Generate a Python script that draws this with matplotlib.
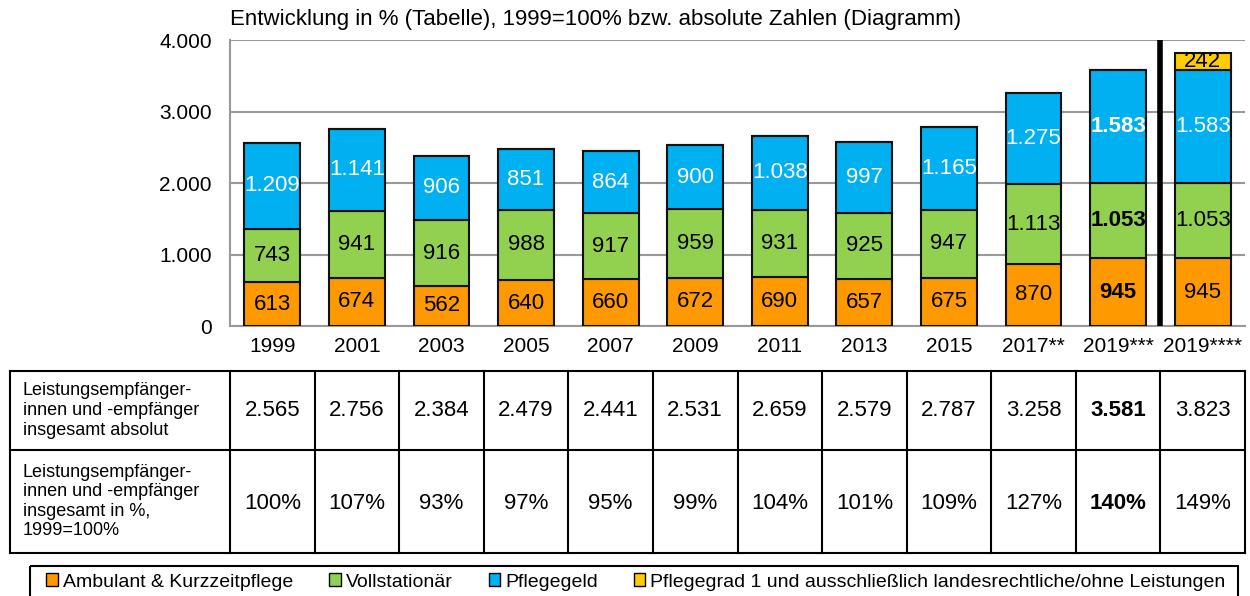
import numpy as np
import matplotlib
matplotlib.use("Agg")
import matplotlib.pyplot as plt
from matplotlib.patches import Patch, Rectangle

plt.rcParams['font.family'] = ['Liberation Sans', 'DejaVu Sans']

# data
years = ['1999', '2001', '2003', '2005', '2007', '2009', '2011', '2013', '2015',
         '2017**', '2019***', '2019****']
ambulant = [613, 674, 562, 640, 660, 672, 690, 657, 675, 870, 945, 945]
vollstationaer = [743, 941, 916, 988, 917, 959, 931, 925, 947, 1113, 1053, 1053]
pflegegeld = [1209, 1141, 906, 851, 864, 900, 1038, 997, 1165, 1275, 1583, 1583]
pflegegrad1 = [0, 0, 0, 0, 0, 0, 0, 0, 0, 0, 0, 242]
total_abs = ['2.565', '2.756', '2.384', '2.479', '2.441', '2.531', '2.659', '2.579',
             '2.787', '3.258', '3.581', '3.823']
total_pct = ['100%', '107%', '93%', '97%', '95%', '99%', '104%', '101%', '109%',
             '127%', '140%', '149%']
row_labels = ['Leistungsempfänger-\ninnen und -empfänger\ninsgesamt absolut',
              'Leistungsempfänger-\ninnen und -empfänger\ninsgesamt in %,\n1999=100%']
series_names = ['Ambulant & Kurzzeitpflege', 'Vollstationär', 'Pflegegeld',
                'Pflegegrad 1 und ausschließlich landesrechtliche/ohne Leistungen']
colors = ['#FF9900', '#92D050', '#00B0F0', '#FFCC00']
bold_col = 10  # 2019***

W, H = 1250, 596
fig = plt.figure(figsize=(W / 100, H / 100), dpi=100)

# chart area in pixels
ax_l, ax_r, ax_t, ax_b = 230, 1245, 40, 326
ax = fig.add_axes([ax_l / W, 1 - ax_b / H, (ax_r - ax_l) / W, (ax_b - ax_t) / H])
n = len(years)
x = np.arange(n)
ax.set_xlim(-0.5, n - 0.5)
ax.set_ylim(0, 4000)

def fmt(v):
    return f'{v:,}'.replace(',', '.')

bottom = np.zeros(n)
for vals, col, txtcol in zip([ambulant, vollstationaer, pflegegeld, pflegegrad1],
                             colors, ['black', 'black', 'white', 'black']):
    vals = np.array(vals)
    ax.bar(x, vals, 0.66, bottom=bottom, color=col, edgecolor='#111111',
           linewidth=1.5, zorder=3)
    for i in range(n):
        if vals[i] > 0:
            ax.text(x[i], bottom[i] + vals[i] / 2, fmt(vals[i]), ha='center', va='center',
                    fontsize=16, color=txtcol, zorder=4,
                    fontweight='bold' if i == bold_col else 'normal')
    bottom = bottom + vals

ax.set_yticks([0, 1000, 2000, 3000, 4000])
ax.set_yticklabels(['0', '1.000', '2.000', '3.000', '4.000'], fontsize=15)
ax.tick_params(axis='y', length=0, pad=13)
ax.tick_params(axis='x', length=0, pad=8)
ax.set_xticks(x)
ax.set_xticklabels(years, fontsize=15)
ax.yaxis.grid(True, color='#999999', linewidth=1.5, zorder=0)
ax.set_axisbelow(True)
for s in ['top', 'right']:
    ax.spines[s].set_visible(False)
ax.spines['left'].set_color('#999999')
ax.spines['bottom'].set_color('#999999')
ax.spines['left'].set_linewidth(1.5)
ax.spines['bottom'].set_linewidth(1.5)
ax.axvline(10.5, ymin=0.005, ymax=1, color='black', linewidth=4, zorder=5)

fig.text(ax_l / W, 1 - 20 / H, 'Entwicklung in % (Tabelle), 1999=100% bzw. absolute Zahlen (Diagramm)',
         fontsize=16, ha='left', va='center')

# table below chart, drawn in pixel coordinates
ov = fig.add_axes([0, 0, 1, 1])
ov.set_xlim(0, W)
ov.set_ylim(H, 0)
ov.axis('off')
cw = (ax_r - ax_l) / n
t_l, t_top, t_mid, t_bot = 10, 371, 450, 553
lw = 1.5
for yy in [t_top, t_mid, t_bot]:
    ov.plot([t_l, ax_r], [yy, yy], color='black', linewidth=lw)
for xx in [t_l] + [ax_l + k * cw for k in range(n + 1)]:
    ov.plot([xx, xx], [t_top, t_bot], color='black', linewidth=lw)
ov.text(t_l + 13, (t_top + t_mid) / 2, row_labels[0], fontsize=13, va='center',
        ha='left', linespacing=1.2)
ov.text(t_l + 13, (t_mid + t_bot) / 2, row_labels[1], fontsize=13, va='center',
        ha='left', linespacing=1.2)
for i in range(n):
    cx = ax_l + (i + 0.5) * cw
    fw = 'bold' if i == bold_col else 'normal'
    ov.text(cx, (t_top + t_mid) / 2, total_abs[i], fontsize=16, ha='center',
            va='center', fontweight=fw)
    ov.text(cx, (t_mid + t_bot) / 2 + 2, total_pct[i], fontsize=16, ha='center',
            va='center', fontweight=fw)

# legend
ov.add_patch(Rectangle((30, 566), 1208, 40, fill=False, edgecolor='black', linewidth=1.5))
handles = [Patch(facecolor=c, edgecolor='black', linewidth=1) for c in colors]
fig.legend(handles, series_names, loc='center', bbox_to_anchor=(636 / W, 1 - 582 / H),
           ncol=4, frameon=False, fontsize=14, handlelength=0.6, handleheight=0.6,
           handletextpad=0.25, columnspacing=1.85, borderpad=0)

fig.savefig('out.png', dpi=100)
